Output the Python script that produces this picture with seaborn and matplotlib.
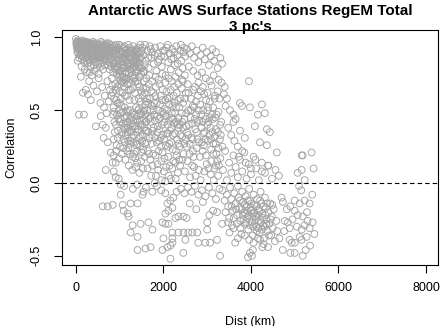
import matplotlib
matplotlib.use("Agg")
import matplotlib.pyplot as plt
import seaborn as sns
import pandas as pd

# ---- data: (distance km, correlation), grouped by region ----
top_near = [(0,0.99),(20,0.97),(40,0.98),(60,0.95),(80,0.96),(100,0.97),(110,0.93),(130,0.95),(150,0.98),(160,0.91),
    (180,0.94),(200,0.96),(210,0.89),(230,0.92),(250,0.97),(260,0.94),(280,0.90),(300,0.96),(310,0.87),(330,0.93),
    (350,0.95),(370,0.91),(390,0.97),(400,0.88),(420,0.94),(440,0.92),(460,0.96),(480,0.89),(500,0.93),(520,0.95),
    (540,0.91),(560,0.86),(580,0.94),(600,0.96),(620,0.90),(640,0.92),(660,0.88),(680,0.95),(700,0.93),
    (30,0.92),(50,0.89),(70,0.86),(90,0.91),(120,0.88),(140,0.85),(170,0.87),(190,0.83),(220,0.86),(240,0.84),
    (270,0.82),(290,0.85),(320,0.83),(340,0.80),(360,0.86),(380,0.84),(410,0.81),(430,0.85),(450,0.83),(470,0.79),
    (490,0.86),(510,0.82),(530,0.88),(550,0.84),(570,0.80),(590,0.87),(610,0.83),(630,0.85),(650,0.81),(670,0.86),
    (690,0.84),(15,0.94),(45,0.93),(75,0.97),(105,0.95),(135,0.91),(165,0.96),(195,0.92),(225,0.95),(255,0.90),
    (285,0.94),(315,0.92),(345,0.89),(375,0.94),(405,0.96),(435,0.90),(465,0.93),(495,0.91),(525,0.89),(555,0.93),
    (585,0.90),(615,0.94),(645,0.95),(675,0.91)]

top_near_2 = [(8,0.96),(25,0.95),(35,0.90),(55,0.97),(65,0.92),(85,0.94),(95,0.88),(115,0.96),(125,0.90),(145,0.93),
    (155,0.87),(175,0.97),(185,0.90),(205,0.93),(215,0.97),(235,0.88),(245,0.93),(265,0.96),(275,0.87),(295,0.92),
    (305,0.95),(325,0.89),(335,0.96),(355,0.91),(365,0.88),(385,0.93),(395,0.90),(415,0.87),(425,0.92),(445,0.95),
    (455,0.88),(475,0.94),(485,0.90),(505,0.87),(515,0.92),(535,0.95),(545,0.86),(565,0.91),(575,0.97),(595,0.88),
    (605,0.92),(625,0.87),(635,0.94),(655,0.90),(665,0.93),(685,0.88),(695,0.96),(40,0.84),(130,0.80),(200,0.78),
    (310,0.76),(420,0.77),(520,0.75),(620,0.78)]

top_mid = [(720,0.94),(740,0.88),(760,0.91),(780,0.85),(800,0.93),(820,0.87),(840,0.90),(860,0.82),(880,0.94),
    (900,0.86),(920,0.89),(940,0.80),(960,0.92),(980,0.84),(1000,0.88),(1020,0.91),(1040,0.83),(1060,0.86),
    (1080,0.93),(1100,0.79),(1120,0.89),(1140,0.85),(1160,0.92),(1180,0.82),(1200,0.87),(1220,0.90),(1240,0.78),
    (1260,0.85),(1280,0.91),(1300,0.83),(1320,0.88),(1340,0.80),(1360,0.86),(1380,0.92),(1400,0.84),(1420,0.77),
    (1440,0.89),(1460,0.82),(1480,0.86),(1500,0.91),(730,0.81),(770,0.78),(810,0.80),(850,0.76),(890,0.79),
    (930,0.75),(970,0.77),(1010,0.74),(1050,0.79),(1090,0.73),(1130,0.76),(1170,0.72),(1210,0.75),(1250,0.71),
    (1290,0.74),(1330,0.72),(1370,0.76),(1410,0.70),(1450,0.73),(1490,0.75),(750,0.96),(790,0.95),(830,0.94),
    (870,0.91),(910,0.95),(950,0.93),(990,0.95),(1030,0.94),(1070,0.90),(1110,0.94),(1150,0.88),(1190,0.95),
    (1230,0.93),(1270,0.89),(1310,0.94),(1350,0.91),(1390,0.88),(1430,0.93),(1470,0.95)]

top_mid_2 = [(705,0.90),(725,0.86),(745,0.92),(765,0.83),(785,0.89),(805,0.86),(825,0.92),(845,0.84),(865,0.89),
    (885,0.82),(905,0.91),(925,0.84),(945,0.88),(965,0.82),(985,0.90),(1005,0.85),(1025,0.81),(1045,0.90),
    (1065,0.81),(1085,0.87),(1105,0.85),(1125,0.80),(1145,0.91),(1165,0.84),(1185,0.89),(1205,0.83),(1225,0.86),
    (1245,0.91),(1265,0.81),(1285,0.87),(1305,0.79),(1325,0.84),(1345,0.90),(1365,0.82),(1385,0.85),(1405,0.90),
    (1425,0.83),(1445,0.86),(1465,0.79),(1485,0.90)]

top_far = [(1520,0.93),(1550,0.88),(1580,0.95),(1600,0.84),(1630,0.91),(1660,0.79),(1690,0.94),(1720,0.86),
    (1750,0.90),(1780,0.82),(1810,0.93),(1840,0.77),(1870,0.89),(1900,0.85),(1930,0.94),(1960,0.80),(1990,0.91),
    (2020,0.87),(2050,0.74),(2080,0.93),(2110,0.83),(2140,0.89),(2170,0.78),(2200,0.92),(2230,0.86),(2260,0.81),
    (2290,0.94),(2320,0.88),(2350,0.76),(2380,0.91),(2410,0.84),(2440,0.79),(2470,0.93),(2500,0.87),
    (1540,0.76),(1610,0.72),(1680,0.74),(1740,0.70),(1820,0.73),(1890,0.71),(1970,0.75),(2040,0.69),(2120,0.72),
    (2190,0.70),(2270,0.73),(2340,0.68),(2420,0.71),(2490,0.74),(1570,0.81),(1650,0.86),(1710,0.92),(1800,0.88),
    (1880,0.83),(1950,0.87),(2030,0.91),(2100,0.95),(2180,0.85),(2250,0.90),(2330,0.82),(2400,0.95),(2460,0.90),
    (2540,0.92),(2600,0.89),(2650,0.94),(2700,0.86),(2760,0.91),(2800,0.83),(2850,0.88),(2900,0.93),(2950,0.85),
    (2990,0.90),(3040,0.81),(3080,0.87),(3120,0.92),(3160,0.84),(3200,0.90),(3240,0.79),(3300,0.86),(3340,0.82),
    (2580,0.80),(2680,0.77),(2780,0.74),(2880,0.76),(2970,0.72),(3060,0.70),(3150,0.74),(3260,0.71),(3330,0.69),
    (3955,0.70)]

left_edge = [(68,0.47),(182,0.47),(114,0.73),(160,0.62),(273,0.61),(341,0.57),(227,0.64),(300,0.70),(400,0.67),
    (250,0.76),(360,0.74),(520,0.72),(600,0.66),(660,0.60),(720,0.70),(780,0.64),(560,0.55),(640,0.52),(750,0.56),
    (480,0.63),(700,0.48),(568,0.46),(614,0.40),(682,0.38),(455,0.39),(636,0.31),(727,0.28),(795,0.21),(864,0.19),
    (841,0.14),(909,0.14),(682,0.09),(864,0.08),(909,0.04),(977,0.03),(1023,-0.01)]

mid_a = [(820,0.72),(840,0.62),(860,0.52),(880,0.42),(900,0.68),(920,0.57),(940,0.47),(960,0.36),(980,0.73),
    (1000,0.63),(1020,0.44),(1040,0.33),(1060,0.70),(1080,0.49),(1100,0.38),(1120,0.28),(1140,0.71),(1160,0.46),
    (1180,0.35),(1200,0.24),(1220,0.69),(1240,0.50),(1260,0.41),(1280,0.31),(1300,0.18),(1320,0.72),(1340,0.47),
    (1360,0.37),(1380,0.26),(1400,0.14),(1420,0.68),(1440,0.51),(1460,0.43),(1480,0.32),(1500,0.21),(1520,0.60),
    (1540,0.49),(1560,0.38),(1580,0.27),(1600,0.56),(830,0.67),(870,0.58),(910,0.64),(950,0.55),(990,0.50),
    (1030,0.58),(1070,0.62),(1110,0.45),(1150,0.40),(1190,0.50),(1230,0.44),(1270,0.36),(1310,0.43),(1350,0.39),
    (1390,0.46),(1430,0.37),(1470,0.48),(1510,0.40),(1550,0.44),(1590,0.47),(1010,0.25),(1050,0.20),(1090,0.30),
    (1130,0.16),(1170,0.22),(1210,0.12),(1250,0.29),(1290,0.09),(1330,0.20),(1370,0.11),(1410,0.27),(1450,0.07),
    (1490,0.15),(1530,0.10),(1570,0.18),(900,0.78),(960,0.80),(1020,0.77),(1080,0.79),(1140,0.76),(1200,0.80),
    (1260,0.77),(1320,0.79),(1380,0.78),(1440,0.80),(1500,0.79),(1560,0.77)]

mid_a_2 = [(810,0.60),(850,0.47),(890,0.35),(930,0.26),(970,0.44),(1010,0.68),(1045,0.53),(1075,0.41),(1105,0.66),
    (1135,0.33),(1165,0.60),(1195,0.29),(1225,0.57),(1255,0.64),(1285,0.48),(1315,0.28),(1345,0.62),(1375,0.52),
    (1405,0.35),(1435,0.58),(1465,0.25),(1495,0.63),(1525,0.33),(1555,0.70),(1585,0.54),(860,0.30),(920,0.22),
    (985,0.17),(1055,0.35),(1115,0.52),(1175,0.68),(1235,0.20),(1295,0.39),(1355,0.17),(1415,0.42),(1475,0.40),
    (1535,0.23),(1595,0.36),(1000,0.55),(1060,0.73),(1120,0.60),(1180,0.42),(1240,0.35),(1300,0.65),(1360,0.70),
    (1420,0.50),(1480,0.56),(1540,0.65)]

mid_a_3 = [(875,0.49),(915,0.40),(955,0.31),(995,0.42),(1035,0.48),(1085,0.24),(1125,0.37),(1155,0.49),(1195,0.38),
    (1235,0.27),(1275,0.45),(1325,0.33),(1365,0.44),(1395,0.22),(1445,0.31),(1485,0.47),(1515,0.29),(1565,0.50),
    (1595,0.42),(945,0.66),(1015,0.71),(1095,0.69),(1205,0.64),(1335,0.57),(1455,0.66),(1575,0.62)]

mid_b = [(1610,0.65),(1630,0.50),(1650,0.35),(1670,0.20),(1690,0.58),(1710,0.42),(1730,0.27),(1750,0.12),
    (1770,0.62),(1790,0.47),(1810,0.31),(1830,0.05),(1850,0.55),(1870,0.39),(1890,0.22),(1910,0.68),(1930,0.45),
    (1950,0.15),(1970,0.57),(1990,0.33),(2010,0.08),(2030,0.51),(2050,0.26),(2070,0.63),(2090,0.40),(2110,0.18),
    (2130,0.54),(2150,0.36),(2170,0.03),(2190,0.48),(2210,0.23),(2230,0.60),(2250,0.41),(2270,0.14),(2290,0.52),
    (2310,0.30),(2330,0.07),(2350,0.45),(2370,0.25),(2390,0.58),(1620,0.28),(1660,0.44),(1700,0.16),(1740,0.53),
    (1780,0.38),(1820,0.19),(1860,0.46),(1900,0.29),(1940,0.60),(1980,0.21),(2020,0.42),(2060,0.11),(2100,0.34),
    (2140,0.59),(2180,0.28),(2220,0.44),(2260,0.34),(2300,0.19),(2340,0.38),(2380,0.12),(1640,0.10),(1720,0.05),
    (1800,0.00),(1880,0.09),(1960,0.02),(2040,0.01),(2120,0.05),(2200,0.10),(2280,0.03),(2360,0.16)]

mid_b_2 = [(1605,0.42),(1625,0.58),(1645,0.22),(1665,0.68),(1685,0.31),(1705,0.50),(1725,0.63),(1745,0.36),
    (1765,0.20),(1785,0.55),(1805,0.43),(1825,0.66),(1845,0.28),(1865,0.13),(1885,0.50),(1905,0.37),(1925,0.54),
    (1945,0.25),(1965,0.40),(1985,0.64),(2005,0.48),(2025,0.17),(2045,0.57),(2065,0.34),(2085,0.50),(2105,0.25),
    (2125,0.43),(2145,0.12),(2165,0.64),(2185,0.38),(2205,0.53),(2225,0.15),(2245,0.66),(2265,0.48),(2285,0.22),
    (2305,0.62),(2325,0.40),(2345,0.27),(2365,0.52),(2385,0.33)]

mid_b_3 = [(1615,0.36),(1655,0.55),(1695,0.45),(1735,0.33),(1775,0.50),(1815,0.60),(1855,0.35),(1895,0.44),
    (1935,0.31),(1975,0.49),(2015,0.30),(2055,0.46),(2095,0.58),(2135,0.27),(2175,0.45),(2215,0.33),(2255,0.55),
    (2295,0.42),(2335,0.57),(2375,0.40)]

mid_c = [(2420,0.65),(2450,0.55),(2480,0.44),(2510,0.62),(2540,0.35),(2570,0.50),(2600,0.27),(2630,0.58),
    (2660,0.41),(2690,0.18),(2720,0.66),(2750,0.47),(2780,0.30),(2810,0.09),(2840,0.54),(2870,0.38),(2900,0.22),
    (2930,0.61),(2960,0.44),(2990,0.13),(3020,0.52),(3050,0.33),(3080,0.06),(3110,0.47),(3140,0.27),(3170,0.58),
    (3200,0.37),(3230,0.15),(3260,0.49),(3290,0.30),(3320,0.42),(3350,0.25),(2430,0.32),(2460,0.20),(2490,0.08),
    (2520,0.48),(2550,0.15),(2580,0.40),(2610,0.04),(2640,0.31),(2670,0.53),(2700,0.11),(2730,0.37),(2760,0.24),
    (2790,0.60),(2820,0.43),(2850,0.02),(2880,0.28),(2910,0.50),(2940,0.35),(2970,0.19),(3000,0.40),(3030,0.10),
    (3060,0.56),(3090,0.23),(3120,0.35),(3150,0.02),(3180,0.45),(3210,0.20),(3240,0.63),(2445,0.70),(2555,0.68),
    (2680,0.64),(2800,0.69),(2900,0.66),(3010,0.62),(3100,0.67),(3180,0.60),(3280,0.58)]

mid_c_2 = [(2415,0.48),(2455,0.38),(2495,0.58),(2535,0.25),(2575,0.62),(2615,0.45),(2655,0.12),(2695,0.52),
    (2735,0.05),(2775,0.42),(2815,0.28),(2855,0.63),(2895,0.42),(2935,0.08),(2975,0.57),(3015,0.29),(3055,0.45),
    (3095,0.15),(3135,0.52),(3175,0.32),(3215,0.47),(3255,0.24),(3295,0.40),(2435,0.16),(2505,0.30),(2595,0.20),
    (2665,0.30),(2745,0.56),(2835,0.18),(2925,0.26),(3005,0.50),(3075,0.38),(3165,0.10),(3245,0.35)]

mid_c_3 = [(2425,0.42),(2475,0.27),(2525,0.39),(2565,0.33),(2625,0.50),(2675,0.22),(2715,0.44),(2765,0.35),
    (2805,0.50),(2865,0.47),(2915,0.34),(2965,0.30),(3025,0.42),(3085,0.30),(3125,0.44),(3195,0.27),(3265,0.12),
    (3310,0.33)]

mid_far = [(3400,0.66),(3450,0.58),(3520,0.50),(3600,0.47),(3650,0.44),(3420,0.53),(3380,0.61),(3750,0.55),
    (3795,0.53),(3977,0.52),(4250,0.54),(4159,0.47),(4318,0.48),(4091,0.39),(4364,0.37),(4432,0.35),(4205,0.28),
    (4364,0.26),(4591,0.21),(3480,0.38),(3550,0.33),(3620,0.29),(3700,0.25),(3800,0.22),(3860,0.31),(3750,0.36),
    (3600,0.42),(3720,0.18),(3880,0.14),(4000,0.10),(4100,0.16),(4250,0.08),(4390,0.12),(3140,0.20),(3200,0.12),
    (3250,0.05),(3300,0.17),(3360,0.09),(3410,0.22),(3450,0.02),(3500,0.14),(3550,0.07),(3600,0.19),(3650,0.11),
    (3700,0.04),(3750,0.16),(3800,0.08),(3850,0.21),(3900,0.03),(3950,0.13),(4000,0.06),(4060,0.18),(4120,0.10),
    (4180,0.02),(4250,0.14),(4320,0.07),(4400,0.12),(4480,0.03),(4560,0.09),(4640,0.05),(5159,0.19),(5386,0.21),
    (5432,0.10),(5068,0.07),(5159,0.09),(5227,0.02),(5182,0.19)]

neg_near = [(1023,-0.08),(1523,-0.08),(1545,-0.06),(614,-0.16),(727,-0.16),(841,-0.15),(1068,-0.15),(1250,-0.14),
    (1409,-0.14),(1091,-0.19),(1182,-0.21),(1205,-0.23),(1296,-0.29),(1250,-0.34),(1477,-0.28),(1659,-0.27),
    (1750,-0.32),(1409,-0.37),(1591,-0.45),(1705,-0.44),(1977,-0.27),(2045,-0.28),(2114,-0.28),(2045,-0.21),
    (2114,-0.19),(2205,-0.17),(2091,-0.14),(2159,-0.12),(2227,-0.10),(2045,-0.07),(2273,-0.24),(2341,-0.23),
    (2455,-0.23),(2205,-0.34),(2341,-0.34),(2455,-0.34),(2568,-0.34),(2659,-0.34),(2500,-0.39),(2000,-0.38),
    (2205,-0.38),(1977,-0.46),(2091,-0.44),(2159,-0.43),(2205,-0.41),(2455,-0.48),(2159,-0.52),(1409,-0.46),
    (1100,-0.02),(1300,-0.04),(1600,-0.03),(1750,-0.06),(1850,-0.02),(1950,-0.05),(2300,-0.06),(1400,-0.01),
    (2400,-0.04),(2480,-0.07),(2560,-0.03),(2640,-0.06),(2720,-0.02),(2800,-0.08),(2880,-0.05),(2960,-0.09),
    (3040,-0.03),(3120,-0.07),(3200,-0.11),(3280,-0.04),(2600,-0.14),(2750,-0.18),(2900,-0.13),(3050,-0.22),
    (2530,-0.24)]

neg_far = [(2773,-0.34),(3000,-0.32),(2955,-0.41),(3068,-0.41),(3227,-0.39),(3295,-0.50),(3932,-0.51),(3977,-0.48),
    (4045,-0.46),(4023,-0.50),(4727,-0.46),(5000,-0.48),(5182,-0.50),(4932,-0.41),(5000,-0.41),(4886,-0.39),
    (5159,-0.39),(5000,-0.19),(5068,-0.22),(5182,-0.23),(5295,-0.26),(5227,-0.29),(5341,-0.31),(5409,-0.27),
    (5159,-0.32),(5114,-0.37),(5273,-0.37),(4841,-0.27),(4886,-0.31),(4773,-0.26),(5000,-0.12),(5114,-0.14),
    (5227,-0.12),(5341,-0.14),(2795,-0.41),(3136,-0.19),(3227,-0.20),(3000,-0.27),(3341,-0.28),(3477,-0.27),
    (3568,-0.29),(3682,-0.28),(3350,-0.05),(3400,-0.12),(3420,-0.20),(3450,-0.08),(3480,-0.16),(3500,-0.24),
    (3520,-0.03),(3550,-0.11),(3580,-0.19),(3600,-0.31),(3620,-0.07),(3650,-0.14),(3680,-0.22),(3700,-0.02),
    (3720,-0.10),(3740,-0.17),(3760,-0.26),(3780,-0.35),(3800,-0.06),(3820,-0.13),(3840,-0.20),(3860,-0.28),
    (3880,-0.09),(3900,-0.16),(3920,-0.24),(3940,-0.32),(3960,-0.04),(3980,-0.12),(4000,-0.19),(4020,-0.27),
    (4040,-0.36),(4060,-0.08),(4080,-0.15),(4100,-0.23),(4120,-0.30),(4140,-0.11),(4160,-0.18),(4180,-0.26),
    (4200,-0.34),(4220,-0.06),(4240,-0.14),(4260,-0.21),(4280,-0.29),(4300,-0.38),(4320,-0.10),(4340,-0.17),
    (4360,-0.25),(4380,-0.33),(4400,-0.20),(4420,-0.28),(4440,-0.14),(4460,-0.36),(4480,-0.23),(4500,-0.31),
    (4520,-0.18),(4550,-0.40),(4580,-0.26),(4600,-0.33),(3870,-0.21),(3910,-0.19),(3950,-0.22),(3990,-0.17),
    (4030,-0.23),(4070,-0.20),(4110,-0.25),(4150,-0.22),(4190,-0.19),(4230,-0.27),(4270,-0.24),(4310,-0.30),
    (4350,-0.28),(3830,-0.25),(3790,-0.18),(3750,-0.12),(4050,-0.30),(4130,-0.33),(4210,-0.39),(4290,-0.42),
    (4390,-0.44),(3700,-0.38),(3640,-0.41),(4700,-0.10),(4760,-0.33),(4820,-0.18),(4950,-0.25),(5050,-0.30),
    (5150,-0.05),(5280,-0.20),(5350,-0.43),(5450,-0.35),(4900,-0.48),(5250,-0.46),(4650,-0.38),(4730,-0.13),
    (4900,-0.16),(5100,-0.02),(5400,-0.08)]

neg_far_2 = [(3810,-0.22),(3850,-0.15),(3890,-0.27),(3930,-0.12),(3970,-0.29),(4010,-0.14),(4050,-0.21),
    (4090,-0.28),(4130,-0.16),(4170,-0.31),(4210,-0.12),(4250,-0.32),(4290,-0.16),(4330,-0.22),(4370,-0.14),
    (4410,-0.36),(4450,-0.25),(4490,-0.15),(3760,-0.31),(3860,-0.36),(3960,-0.39),(4060,-0.41),(4160,-0.38),
    (4260,-0.44),(3660,-0.18),(3610,-0.24),(3560,-0.16),(3510,-0.34)]

regions = [top_near, top_near_2, top_mid, top_mid_2, top_far, left_edge, mid_a, mid_a_2, mid_a_3,
           mid_b, mid_b_2, mid_b_3, mid_c, mid_c_2, mid_c_3, mid_far, neg_near, neg_far, neg_far_2]
pairs = [p for r in regions for p in r]
df = pd.DataFrame(pairs, columns=["dist", "corr"])

title_lines = ["Antarctic AWS Surface Stations RegEM Total", "3 pc's"]
x_ticks = [0, 2000, 4000, 6000, 8000]
y_ticks = [-0.5, 0.0, 0.5, 1.0]

sns.set_style("white")
plt.rcParams["font.family"] = ["Liberation Sans", "DejaVu Sans"]
plt.rcParams["text.color"] = "black"

W, H = 442, 326
fig = plt.figure(figsize=(W / 100, H / 100), dpi=100)
ax = fig.add_axes([61.7 / W, 1 - 265 / H, (438 - 61.7) / W, (265 - 30) / H])

sns.scatterplot(data=df, x="dist", y="corr", ax=ax, marker="o", s=24,
                facecolors="none", edgecolor="#a3a3a3", linewidth=0.65, legend=False)

ax.axhline(0, color="black", lw=0.8, linestyle=(0, (4, 2.8)))

ax.set_xlim(-325, 8275)
ax.set_ylim(-0.563, 1.0515)
ax.set_xticks(x_ticks)
ax.set_xticklabels([str(v) for v in x_ticks])
ax.set_yticks(y_ticks)
ax.set_yticklabels([f"{v:.1f}" for v in y_ticks], rotation=90, va="center")
ax.tick_params(axis="both", direction="out", length=5.5, width=0.8, color="black",
               labelsize=9, labelcolor="black", bottom=True, left=True)
ax.tick_params(axis="x", pad=7)
ax.tick_params(axis="y", pad=8)
ax.set_xlabel("")
ax.set_ylabel("")
for sp in ax.spines.values():
    sp.set_visible(True)
    sp.set_color("black")
    sp.set_linewidth(0.8)

fig.text(250 / W, 1 - 15.5 / H, title_lines[0], ha="center", va="baseline",
         fontsize=11, fontweight="bold", color="black")
fig.text(250 / W, 1 - 30.5 / H, title_lines[1], ha="center", va="baseline",
         fontsize=11, fontweight="bold", color="black")
fig.text(250 / W, 1 - 324.5 / H, "Dist (km)", ha="center", va="baseline", fontsize=9, color="black")
fig.text(11 / W, 1 - 147.5 / H, "Correlation", ha="center", va="center",
         rotation=90, fontsize=9, color="black")

fig.savefig("out.png", dpi=100)
